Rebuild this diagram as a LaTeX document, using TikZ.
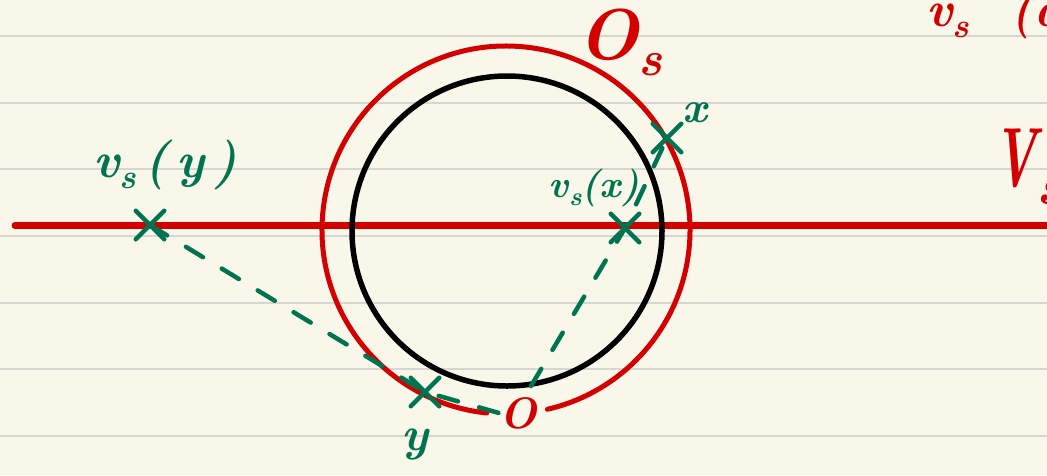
\documentclass[tikz,border=0pt]{standalone}
\usepackage{fontspec}
\usepackage{graphicx}
\usetikzlibrary{shapes.misc}
\definecolor{paper}{HTML}{F9F7EA}
\definecolor{rulecol}{HTML}{D6D6D3}
\definecolor{hred}{HTML}{D40000}
\definecolor{hgreen}{HTML}{007350}
\newcommand\hsub[1]{\raisebox{-0.22em}{\scalebox{0.68}{#1}}}
\begin{document}
\begin{tikzpicture}[x=1pt,y=-1pt,
  redline/.style={draw=hred,line width=7pt,line cap=round},
  redcirc/.style={draw=hred,line width=5pt,line cap=round},
  blackcirc/.style={draw=black,line width=5.5pt},
  ptmark/.style={cross out,draw=hgreen,line width=4.5pt,minimum size=24pt,inner sep=0pt,line cap=round},
  proj/.style={draw=hgreen,line width=4.5pt,line cap=round,dash pattern=on 20pt off 22pt},
  glabel/.style={text=hgreen,inner sep=0pt},
  rlabel/.style={text=hred,inner sep=0pt}
]
\fill[paper] (0,0) rectangle (1047,475);
\useasboundingbox (0,0) rectangle (1047,475);
\clip (0,0) rectangle (1047,475);
\foreach \yy in {36,102.7,169.3,236,302.7,369.3,436}
  \draw[rulecol,line width=1.8pt] (0,\yy) -- (1047,\yy);
% projection line V_s
\draw[redline] (15,225.5) -- (1070,225.5);
% circles
\draw[blackcirc] (507,231) circle[radius=155];
\draw[redcirc] (506,230) ++(96:184) arc[start angle=96,end angle=437,radius=184];
% points
\node[ptmark] (vsy) at (150,225) {};
\node[ptmark] (vsx) at (625,228) {};
\node[ptmark] (x) at (667,138) {};
\node[ptmark] (y) at (425,392) {};
\coordinate (S) at (531,386);
% labels
\node[rlabel,font=\fontsize{44}{50}\selectfont\bfseries\itshape] (O) at (518,413) {O};
\node[glabel,font=\fontsize{50}{56}\selectfont\bfseries\itshape] (lvsy) at (165,165) {v\hsub{s}\,(\,y\,)};
\node[glabel,font=\fontsize{38}{42}\selectfont\bfseries\itshape] (lvsx) at (594,188) {v\hsub{s}(x)};
\node[glabel,font=\fontsize{44}{50}\selectfont\bfseries\itshape] (lx) at (695,113) {x};
\node[glabel,font=\fontsize{48}{52}\selectfont\bfseries\itshape] (ly) at (415,444) {y};
\node[rlabel,font=\fontsize{72}{80}\selectfont\bfseries\itshape] (Os) at (620,42) {O\hsub{s}};
\node[rlabel,font=\fontsize{84}{96}\selectfont\bfseries\itshape,anchor=base west] (Vs) at (993,186) {\scalebox{0.6}[1]{V}\hsub{s}};
\node[rlabel,font=\fontsize{50}{60}\selectfont\bfseries\itshape,anchor=base west] (vsa) at (926,26) {v\hsub{s}\ \ (a};
% projection rays
\draw[proj] (vsy.center) -- (y.center) -- (O.west);
\draw[proj] (S) -- (vsx.center) -- (x.center);
\end{tikzpicture}
\end{document}
